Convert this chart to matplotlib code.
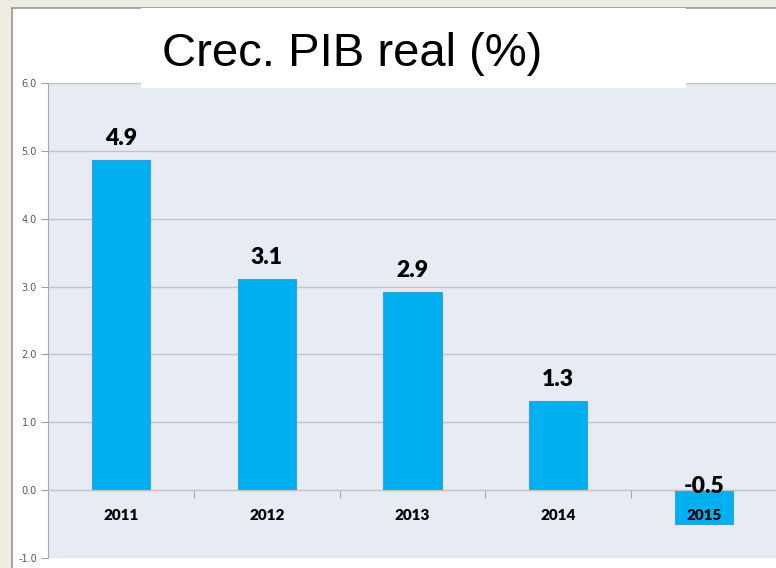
import matplotlib.pyplot as plt
from matplotlib.patches import Rectangle

years = ['2011', '2012', '2013', '2014', '2015']
growth = [4.87, 3.11, 2.92, 1.31, -0.50]
labels = ['4.9', '3.1', '2.9', '1.3', '-0.5']
yticks = [-1.0, 0.0, 1.0, 2.0, 3.0, 4.0, 5.0, 6.0]
title = 'Crec. PIB real (%)'

W, H = 776, 568
fig = plt.figure(figsize=(W / 100, H / 100), dpi=100, facecolor='#EEEBE0')

# white slide panel with grey border
fig.add_artist(Rectangle((13 / W, 0), 1, 1 - 8 / H, transform=fig.transFigure,
                         facecolor='white', edgecolor='none', zorder=0))
fig.add_artist(plt.Line2D([12.5 / W, 12.5 / W], [0, 1 - 7.5 / H], transform=fig.transFigure,
                          color='#9a9a9a', lw=1.2, zorder=0.1))
fig.add_artist(plt.Line2D([12.5 / W, 1], [1 - 7.5 / H, 1 - 7.5 / H], transform=fig.transFigure,
                          color='#9a9a9a', lw=1.2, zorder=0.1))

ax = fig.add_axes([48 / W, 1 - 558 / H, (777 - 48) / W, (558 - 83) / H])
ax.set_facecolor('#E7EBF3')
ax.set_axisbelow(True)

x = list(range(len(years)))
ax.bar(x, growth, width=0.4, color='#00B0F0', edgecolor='#3A9FD2', linewidth=0.8, zorder=2)

ax.set_xlim(-0.5, len(years) - 0.5)
ax.set_ylim(-1.0, 6.0)
ax.set_yticks(yticks)
ax.set_yticklabels(['%.1f' % t for t in yticks])
ax.tick_params(axis='y', length=5, width=0.8, color='#a0a0a0', labelsize=7,
               labelcolor='#555555', pad=3)
ax.grid(axis='y', color='#C4C4C4', lw=1.0)

ax.spines['top'].set_visible(False)
ax.spines['right'].set_visible(False)
ax.spines['left'].set_color('#A8A8A8')
ax.spines['bottom'].set_position(('data', 0))
ax.spines['bottom'].set_color('#C4C4C4')
ax.set_xticks(x)
ax.set_xticklabels([])
ax.tick_params(axis='x', which='major', length=0)
ax.set_xticks([i + 0.5 for i in x[:-1]], minor=True)
ax.tick_params(axis='x', which='minor', length=6, width=0.8, color='#A8A8A8', direction='out')

for i, (v, lab) in enumerate(zip(growth, labels)):
    if v >= 0:
        ax.annotate(lab, (i, v), xytext=(0, 8), textcoords='offset points',
                    ha='center', va='bottom', fontsize=16.5, fontweight='heavy',
                    family=['Lato', 'DejaVu Sans'], zorder=4)
    else:
        ax.annotate(lab, (i, 0), xytext=(0, -2), textcoords='offset points',
                    ha='center', va='baseline', fontsize=16.5, fontweight='heavy',
                    family=['Lato', 'DejaVu Sans'], zorder=4)
    ax.text(i, -0.37, years[i], ha='center', va='center', fontsize=11,
            fontweight='heavy', family=['Lato', 'DejaVu Sans'], zorder=4)

# title box over the top of the plot
fig.add_artist(Rectangle((141 / W, 1 - 88 / H), (686 - 141) / W, 80 / H,
                         transform=fig.transFigure, facecolor='white',
                         edgecolor='none', zorder=5))
fig.text(162 / W, 1 - 66 / H, title, ha='left', va='baseline', fontsize=34,
         family='Liberation Sans', zorder=6)

fig.savefig('out.png', dpi=100, facecolor=fig.get_facecolor())
